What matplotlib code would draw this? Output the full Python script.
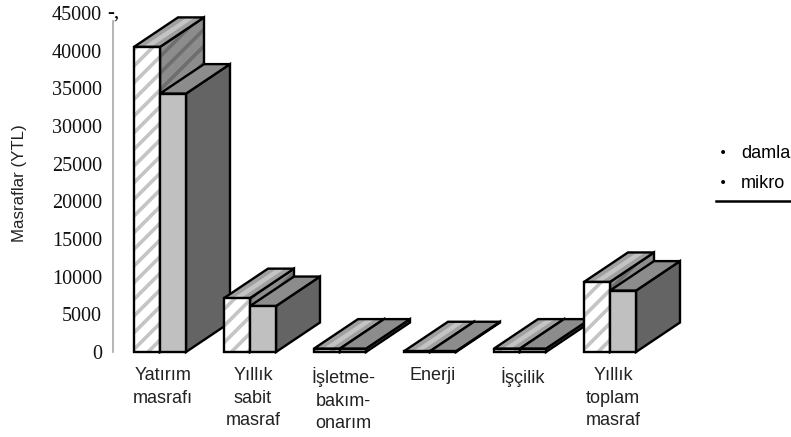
import matplotlib
matplotlib.use("Agg")
import matplotlib.pyplot as plt
from matplotlib.patches import Polygon

categories = ["Yatırım\nmasrafı", "Yıllık\nsabit\nmasraf", "İşletme-\nbakım-\nonarım",
              "Enerji", "İşçilik", "Yıllık\ntoplam\nmasraf"]
damla = [40500, 7150, 450, 100, 450, 9300]
mikro = [34300, 6100, 450, 100, 450, 8150]
yticks = [0, 5000, 10000, 15000, 20000, 25000, 30000, 35000, 40000, 45000]
legend_names = ["damla", "mikro"]

plt.rcParams["hatch.linewidth"] = 2.6

W, H = 791, 437
fig = plt.figure(figsize=(W / 100, H / 100), dpi=100)
ax = fig.add_axes([113 / W, 85 / H, (W - 113) / W, 339 / H])
ax.set_xlim(113, W)
ax.set_ylim(0, 45000)
ax.patch.set_visible(False)

# x axis is in pixels, so the depth is pixels too
bar_w = 26
depth_x = 44
depth_y = 29.5 * 45000 / 339
group_x = [134 + 90 * i for i in range(len(categories))]


def poly(points, **kw):
    p = Polygon(points, closed=True, clip_on=False, **kw)
    ax.add_patch(p)
    return p


def draw_bar(x, val, front, side, top, hatched=False):
    x2 = x + bar_w
    side_pts = [(x2, 0), (x2 + depth_x, depth_y), (x2 + depth_x, val + depth_y), (x2, val)]
    top_pts = [(x, val), (x + depth_x, val + depth_y), (x2 + depth_x, val + depth_y), (x2, val)]
    front_pts = [(x, 0), (x2, 0), (x2, val), (x, val)]

    poly(side_pts, fc=side, ec="none")
    if hatched:
        poly(side_pts, fc="none", ec="#6e6e6e", hatch="//", lw=0)
    poly(side_pts, fc="none", ec="black", lw=1.7)

    poly(top_pts, fc=top, ec="none")
    if hatched:
        # lighter streak along the top face
        a, b = x + 9, x + 17
        poly([(a, val), (a + depth_x, val + depth_y), (b + depth_x, val + depth_y), (b, val)],
             fc="#c4c4c4", ec="none")
    poly(top_pts, fc="none", ec="black", lw=1.7)

    poly(front_pts, fc=front, ec="none")
    if hatched:
        poly(front_pts, fc="none", ec="#c4c4c4", hatch="//", lw=0)
    poly(front_pts, fc="none", ec="black", lw=1.7)


for x, d, m in zip(group_x, damla, mikro):
    draw_bar(x, d, "white", "#8c8c8c", "#a0a0a0", hatched=True)
    draw_bar(x + bar_w, m, "#c0c0c0", "#646464", "#8c8c8c")

ax.set_yticks(yticks)
ax.set_yticklabels([str(v) for v in yticks], family="Liberation Serif", fontsize=14.5, color="#111111")
ax.tick_params(axis="y", length=0, pad=8)

ax.set_xticks([x + bar_w + 3 for x in group_x])
ax.set_xticklabels(categories, family="Liberation Sans", fontsize=13, linespacing=1.42, color="#222222")
ax.tick_params(axis="x", length=0, pad=11)

for s in ["top", "right", "bottom"]:
    ax.spines[s].set_visible(False)
ax.spines["left"].set_color("#a8a8a8")
ax.spines["left"].set_linewidth(1.2)
ax.spines["left"].set_bounds(0, 44000)

# stray mark beside the top tick
fig.text(107 / W, 1 - 14 / H, "-,", family="Liberation Serif", fontsize=15, ha="left", va="center")

fig.text(20 / W, 1 - 183 / H, "Masraflar (YTL)", family="Liberation Sans", fontsize=12.2,
         rotation=90, ha="center", va="center", color="#222222")

# legend, runs off the right edge in the original
for name, py in zip(legend_names, [153, 183]):
    fig.text(723 / W, 1 - py / H, "•", family="DejaVu Sans", fontsize=10, ha="center", va="center")
    fig.text(741 / W, 1 - py / H, name, family="Liberation Sans", fontsize=13, ha="left", va="center")
fig.add_artist(plt.Line2D([716 / W, 1], [1 - 201 / H, 1 - 201 / H], color="black", lw=1.8))

fig.savefig("out.png", dpi=100)
